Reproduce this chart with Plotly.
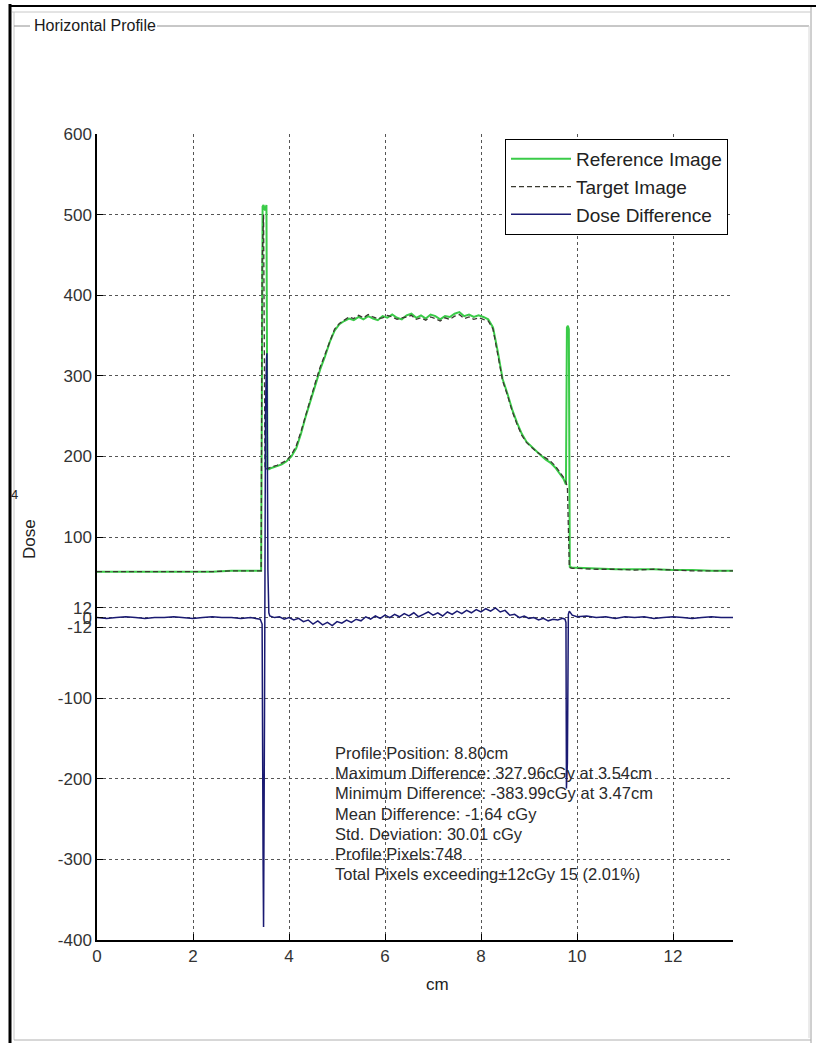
import plotly.graph_objects as go

# ---------------- data ----------------
ref_x = [0.0, 0.4, 0.8, 1.2, 1.6, 2.0, 2.4, 2.8, 3.2, 3.42, 3.45, 3.47, 3.50, 3.53, 3.55, 3.58,
         3.65, 3.75, 3.85, 3.95, 4.05, 4.15, 4.25, 4.35, 4.45, 4.55, 4.65, 4.75, 4.85, 4.95,
         5.05, 5.15, 5.25, 5.35, 5.45, 5.55, 5.65, 5.75, 5.85, 5.95, 6.05, 6.15, 6.25, 6.35,
         6.45, 6.55, 6.65, 6.75, 6.85, 6.95, 7.05, 7.15, 7.25, 7.35, 7.45, 7.55, 7.65, 7.75,
         7.85, 7.95, 8.05, 8.15, 8.25, 8.35, 8.45, 8.55, 8.65, 8.75, 8.85, 8.95, 9.05, 9.15,
         9.25, 9.35, 9.45, 9.55, 9.65, 9.72, 9.77, 9.79, 9.81, 9.83, 9.85, 9.9, 10.0, 10.4,
         10.8, 11.2, 11.6, 12.0, 12.4, 12.8, 13.25]
ref_y = [57, 57, 57, 57, 57, 57, 57, 58, 58, 58, 510, 512, 505, 512, 186, 184,
         186, 188, 190, 194, 200, 210, 228, 250, 270, 290, 308, 324, 342, 356,
         364, 368, 371, 369, 373, 370, 374, 371, 369, 374, 372, 376, 372, 370,
         375, 377, 372, 375, 371, 376, 374, 370, 374, 373, 377, 379, 374, 376,
         373, 375, 373, 370, 360, 330, 296, 278, 258, 242, 228, 218, 212, 206,
         201, 196, 192, 186, 178, 172, 165, 360, 362, 358, 63, 62, 62, 61,
         60, 60, 60, 59, 59, 58, 58]

tgt_x = [0.0, 0.4, 0.8, 1.2, 1.6, 2.0, 2.4, 2.8, 3.2, 3.42, 3.44, 3.47, 3.50, 3.55, 3.58,
         3.65, 3.75, 3.85, 3.95, 4.05, 4.15, 4.25, 4.35, 4.45, 4.55, 4.65, 4.75, 4.85, 4.95,
         5.05, 5.15, 5.25, 5.35, 5.45, 5.55, 5.65, 5.75, 5.85, 5.95, 6.05, 6.15, 6.25, 6.35,
         6.45, 6.55, 6.65, 6.75, 6.85, 6.95, 7.05, 7.15, 7.25, 7.35, 7.45, 7.55, 7.65, 7.75,
         7.85, 7.95, 8.05, 8.15, 8.25, 8.35, 8.45, 8.55, 8.65, 8.75, 8.85, 8.95, 9.05, 9.15,
         9.25, 9.35, 9.45, 9.55, 9.65, 9.72, 9.77, 9.80, 9.84, 9.9, 10.0, 10.4,
         10.8, 11.2, 11.6, 12.0, 12.4, 12.8, 13.25]
tgt_y = [57, 57, 57, 57, 57, 57, 57, 58, 58, 58, 440, 500, 184, 185, 185,
         187, 189, 192, 195, 202, 213, 231, 252, 273, 292, 311, 327, 344, 358,
         365, 369, 373, 371, 375, 372, 376, 373, 371, 372, 375, 373, 370, 372,
         373, 375, 370, 372, 369, 373, 371, 368, 372, 370, 374, 376, 371, 373,
         370, 372, 370, 368, 358, 326, 294, 276, 256, 240, 226, 217, 211, 206,
         202, 198, 194, 188, 180, 174, 168, 162, 62, 61, 61, 60,
         60, 59, 60, 59, 58, 58, 58]

diff_x = [0.0, 0.2, 0.4, 0.6, 0.8, 1.0, 1.2, 1.4, 1.6, 1.8, 2.0, 2.2, 2.4, 2.6, 2.8, 3.0, 3.2, 3.4,
          3.44, 3.46, 3.47, 3.49, 3.51, 3.53, 3.54, 3.56, 3.58,
          3.6, 3.7, 3.8, 3.9, 4.0, 4.1, 4.2, 4.3, 4.4, 4.5, 4.6, 4.7, 4.8, 4.9, 5.0, 5.1,
          5.2, 5.3, 5.4, 5.5, 5.6, 5.7, 5.8, 5.9, 6.0, 6.1, 6.2, 6.3, 6.4, 6.5, 6.6, 6.7,
          6.8, 6.9, 7.0, 7.1, 7.2, 7.3, 7.4, 7.5, 7.6, 7.7, 7.8, 7.9, 8.0, 8.1, 8.2, 8.3,
          8.4, 8.5, 8.6, 8.7, 8.8, 8.9, 9.0, 9.1, 9.2, 9.3, 9.4, 9.5, 9.6, 9.7,
          9.75, 9.77, 9.78, 9.80, 9.82, 9.84,
          9.9, 10.0, 10.2, 10.4, 10.6, 10.8, 11.0, 11.2, 11.4, 11.6, 11.8, 12.0, 12.2,
          12.4, 12.6, 12.8, 13.0, 13.25]
diff_y = [0, -1, 0, 1, 0, -1, 0, 0, 1, 0, -1, 0, 1, 0, 0, -1, 0, -2,
          -8, -300, -384, -120, 250, 320, 328, 60, 6,
          2, 0, 1, -2, 0, -3, -1, -5, -3, -8, -4, -9, -6, -10, -5, -7,
          -3, -6, -2, -4, 1, -2, 2, -1, 3, 0, 4, 1, 5, 2, 6, 1,
          4, 7, 3, 6, 2, 7, 4, 8, 5, 9, 6, 10, 7, 11, 8, 12,
          7, 9, 3, 4, 0, 2, -1, 0, -3, -1, -4, -2, -3, -1,
          -2, -6, -212, -180, 4, 8,
          3, 1, 2, 0, 1, -1, 1, 0, 1, -1, 0, 1, 0,
          -1, 0, 1, 0, 0]

y_ticks = [-400, -300, -200, -100, -12, 0, 12, 100, 200, 300, 400, 500, 600]
y_tick_text = ["-400", "-300", "-200", "-100", "-12", "0", "12", "100", "200", "300", "400", "500", "600"]
x_ticks = [0, 2, 4, 6, 8, 10, 12]

info_lines = [
    "Profile:Position: 8.80cm",
    "Maximum Difference: 327.96cGy at 3.54cm",
    "Minimum Difference: -383.99cGy at 3.47cm",
    "Mean Difference: -1.64 cGy",
    "Std. Deviation: 30.01 cGy",
    "Profile:Pixels:748",
    "Total Pixels exceeding\u00b112cGy 15 (2.01%)",
]

# ---------------- layout helpers ----------------
W, H = 816, 1043
L, R, T, B = 97, 733, 134, 940
FONT = "Liberation Sans, Arial, sans-serif"


def px(x):
    return (x - L) / (R - L)


def py(y):
    return (B - y) / (B - T)


fig = go.Figure()
fig.add_trace(go.Scatter(x=ref_x, y=ref_y, mode="lines", name="Reference Image",
                         line=dict(color="#3acb48", width=2)))
fig.add_trace(go.Scatter(x=tgt_x, y=tgt_y, mode="lines", name="Target Image",
                         line=dict(color="#3a3a30", width=1.3, dash="5px,3px")))
fig.add_trace(go.Scatter(x=diff_x, y=diff_y, mode="lines", name="Dose Difference",
                         line=dict(color="#1a1a72", width=1.5)))

shapes = []


def hline(x0, x1, y, color, width):
    shapes.append(dict(type="line", xref="paper", yref="paper", x0=px(x0), x1=px(x1),
                       y0=py(y), y1=py(y), line=dict(color=color, width=width)))


def vline(x, y0, y1, color, width):
    shapes.append(dict(type="line", xref="paper", yref="paper", x0=px(x), x1=px(x),
                       y0=py(y0), y1=py(y1), line=dict(color=color, width=width)))


# outer window frame
vline(10, 4, 1043, "#000000", 3)
hline(9, 816, 6, "#000000", 2)
vline(811, 7, 1043, "#a0a0a0", 1)
hline(12, 811, 12, "#c8c8c8", 1)
vline(14, 12, 1040, "#c8c8c8", 1)
hline(14, 811, 1040, "#b0b0b0", 1)
# group box
hline(14, 30, 26, "#909090", 1)
hline(157, 809, 26, "#909090", 1)
vline(809, 26, 1038, "#d8d8d8", 1)

annotations = [
    dict(text="Horizontal Profile", x=px(32), y=py(25), xref="paper", yref="paper",
         xanchor="left", yanchor="middle", showarrow=False,
         font=dict(family=FONT, size=16, color="#1a1a1a")),
    dict(text="Dose", x=px(29), y=py(539), xref="paper", yref="paper", textangle=-90,
         xanchor="center", yanchor="middle", showarrow=False,
         font=dict(family=FONT, size=17, color="#222222")),
    dict(text="cm", x=px(437), y=py(985), xref="paper", yref="paper",
         xanchor="center", yanchor="middle", showarrow=False,
         font=dict(family=FONT, size=17, color="#222222")),
    dict(text="4", x=px(14), y=py(494), xref="paper", yref="paper",
         xanchor="center", yanchor="middle", showarrow=False,
         font=dict(family=FONT, size=13, color="#222222")),
]
for i, line in enumerate(info_lines):
    annotations.append(dict(text=line, x=px(333), y=py(753 + 20.2 * i), xref="paper", yref="paper",
                            xanchor="left", yanchor="middle", showarrow=False,
                            font=dict(family=FONT, size=16.5, color="#2a2a2a")))

fig.update_layout(
    width=W, height=H,
    margin=dict(l=L, r=W - R, t=T, b=H - B, pad=0),
    paper_bgcolor="white", plot_bgcolor="white",
    font=dict(family=FONT, size=17, color="#222222"),
    showlegend=True,
    legend=dict(x=px(728), y=py(139), xanchor="right", yanchor="top",
                bgcolor="white", bordercolor="#000000", borderwidth=1,
                font=dict(family=FONT, size=19, color="#222222"),
                itemwidth=60, tracegroupgap=0),
    shapes=shapes,
    annotations=annotations,
)
fig.update_xaxes(range=[0, 13.25], tickvals=x_ticks, ticks="inside", ticklen=6,
                 tickcolor="#000", showline=True, linecolor="#000", linewidth=1.5,
                 showgrid=True, gridcolor="#555555", griddash="dot", gridwidth=1,
                 zeroline=False, tickfont=dict(family=FONT, size=17, color="#333333"))
fig.update_yaxes(range=[-400, 600], tickvals=y_ticks, ticktext=y_tick_text, ticks="inside",
                 ticklen=6, tickcolor="#000", showline=True, linecolor="#000", linewidth=1.5,
                 showgrid=True, gridcolor="#555555", griddash="dot", gridwidth=1,
                 zeroline=False, tickfont=dict(family=FONT, size=17, color="#333333"))

fig.write_html("out.html")
